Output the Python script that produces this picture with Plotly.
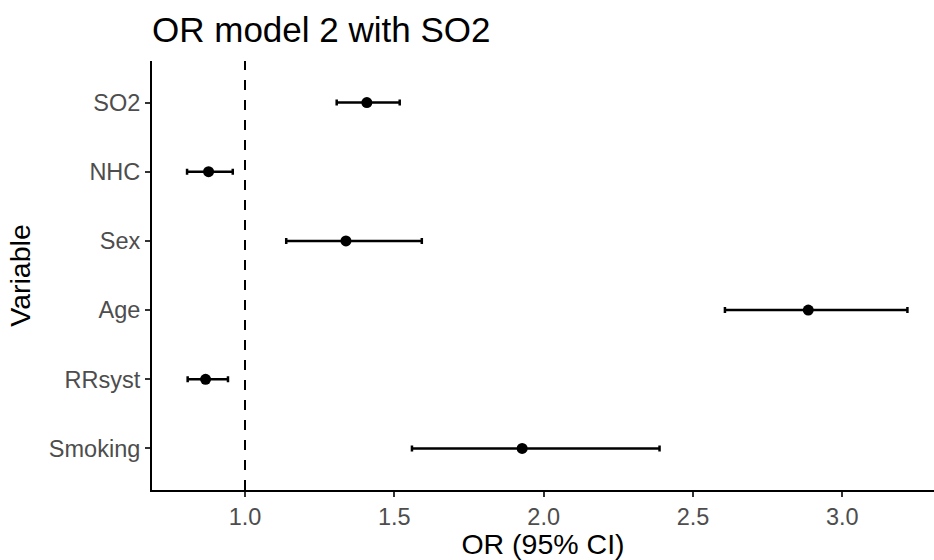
import plotly.graph_objects as go

variables = ["SO2", "NHC", "Sex", "Age", "RRsyst", "Smoking"]
or_est = [1.408, 0.878, 1.338, 2.886, 0.868, 1.928]
ci_low = [1.307, 0.806, 1.138, 2.607, 0.808, 1.559]
ci_high = [1.518, 0.959, 1.592, 3.218, 0.943, 2.388]
x_ticks = [1.0, 1.5, 2.0, 2.5, 3.0]
x_tick_labels = ["1.0", "1.5", "2.0", "2.5", "3.0"]
ref_line = 1.0

err_plus = [h - e for h, e in zip(ci_high, or_est)]
err_minus = [e - l for e, l in zip(or_est, ci_low)]

fig = go.Figure()
fig.add_trace(go.Scatter(
    x=or_est, y=variables, mode="markers",
    marker=dict(color="black", size=11),
    error_x=dict(type="data", symmetric=False, array=err_plus, arrayminus=err_minus,
                 color="black", thickness=2.5, width=3),
    showlegend=False,
))

fig.add_shape(type="line", x0=ref_line, x1=ref_line, y0=0, y1=1, yref="paper",
              line=dict(color="black", width=2, dash="10px,10px"), layer="below")

font_family = "Liberation Sans, Arial, sans-serif"
fig.update_layout(
    width=934, height=560,
    margin=dict(l=152, r=0, t=61, b=70),
    plot_bgcolor="white", paper_bgcolor="white",
    font=dict(family=font_family),
    title=dict(text="OR model 2 with SO2", x=152/934, xanchor="left", xref="container",
               y=1 - 30/560, yanchor="middle", yref="container",
               font=dict(size=35, color="black", family=font_family)),
    xaxis=dict(
        range=[0.6886, 3.307], tickvals=x_ticks, ticktext=x_tick_labels,
        showgrid=False, zeroline=False,
        showline=True, linecolor="black", linewidth=2,
        ticks="outside", ticklen=5, tickwidth=1.5, tickcolor="#333333",
        tickfont=dict(size=23.5, color="#4D4D4D"),
        title=dict(text="OR (95% CI)", font=dict(size=28.5, color="black"), standoff=5),
    ),
    yaxis=dict(
        type="category", categoryorder="array", categoryarray=variables,
        range=[5.6, -0.6],
        showgrid=False, zeroline=False,
        showline=True, linecolor="black", linewidth=2,
        ticks="outside", ticklen=5, tickwidth=1.5, tickcolor="#333333",
        tickfont=dict(size=23.5, color="#4D4D4D"),
        title=dict(text="Variable", font=dict(size=28.5, color="black"), standoff=10),
    ),
)

fig.write_html("out.html")
